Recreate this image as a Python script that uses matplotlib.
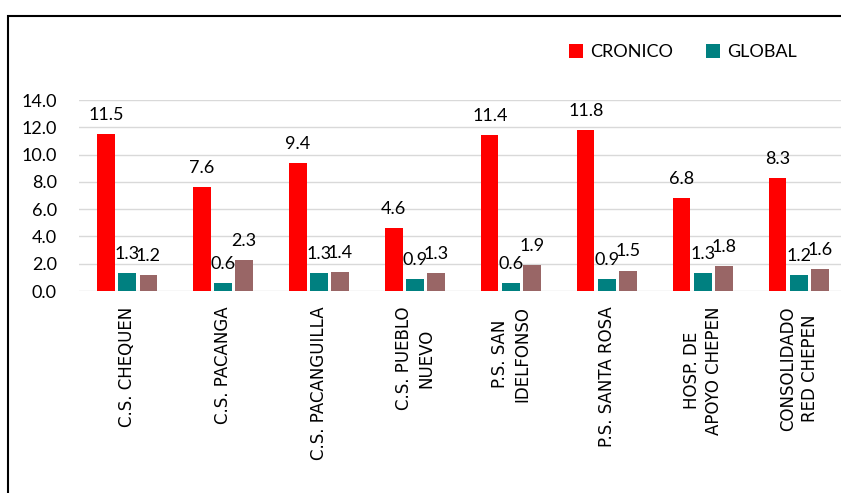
import matplotlib
matplotlib.use("Agg")
import matplotlib.pyplot as plt
import matplotlib.patches as mpatches
from matplotlib.font_manager import FontProperties
import numpy as np

# datos
categorias = ["C.S. CHEQUEN", "C.S. PACANGA", "C.S. PACANGUILLA", "C.S. PUEBLO\nNUEVO",
              "P.S. SAN\nIDELFONSO", "P.S. SANTA ROSA", "HOSP. DE\nAPOYO CHEPEN",
              "CONSOLIDADO\nRED CHEPEN"]
cronico = [11.5, 7.6, 9.4, 4.6, 11.4, 11.8, 6.8, 8.3]
global_ = [1.3, 0.6, 1.3, 0.9, 0.6, 0.9, 1.3, 1.2]
otro = [1.2, 2.3, 1.4, 1.3, 1.9, 1.5, 1.8, 1.6]
yticks = [0, 2, 4, 6, 8, 10, 12, 14]

num_font = FontProperties(family="Lato", size=13)
cat_font = FontProperties(family="DejaVu Sans", size=12)

fig = plt.figure(figsize=(8.41, 4.93), dpi=100)
ax = fig.add_axes([0.094, 0.4097, 0.913, 0.3874])

x = np.arange(len(categorias))
w = 0.18
off = 0.22
series = [(cronico, "#FF0000", "CRONICO"), (global_, "#008080", "GLOBAL"), (otro, "#996666", "_otro")]
for k, (vals, col, lab) in enumerate(series):
    pos = x + (k - 1) * off
    ax.bar(pos, vals, width=w, color=col, label=lab, zorder=3)
    for px, v in zip(pos, vals):
        ax.annotate(f"{v:.1f}", (px, v), xytext=(0, 8), textcoords="offset points",
                    ha="center", va="bottom", fontproperties=num_font)

ax.set_ylim(0, 14)
ax.set_xlim(-0.5, len(categorias) - 0.5)
ax.set_yticks(yticks)
ax.set_yticklabels([f"{t:.1f}" for t in yticks])
for lbl in ax.get_yticklabels():
    lbl.set_fontproperties(num_font)
ax.yaxis.grid(True, color="#D9D9D9", lw=1, zorder=0)
ax.set_xticks(x)
ax.set_xticklabels(categorias, rotation=90, ha="center", va="top",
                   multialignment="center", linespacing=1.3)
for lbl in ax.get_xticklabels():
    lbl.set_fontproperties(cat_font)
ax.tick_params(axis="x", length=0, pad=11)
ax.tick_params(axis="y", length=0, pad=16)
for s in ax.spines.values():
    s.set_visible(False)

ax.legend(loc="center", bbox_to_anchor=(683 / 841, 1 - 52 / 493), bbox_transform=fig.transFigure,
          ncol=2, frameon=False, prop=num_font,
          handlelength=0.8, handleheight=0.8, columnspacing=1.8, handletextpad=0.4)

# marco del grafico
fig.patches.append(mpatches.Rectangle((8 / 841, -0.1), 1.1, 1.1 - 16 / 493,
                                      transform=fig.transFigure, fill=False,
                                      edgecolor="black", lw=1.5))

fig.savefig("out.png", dpi=100)
